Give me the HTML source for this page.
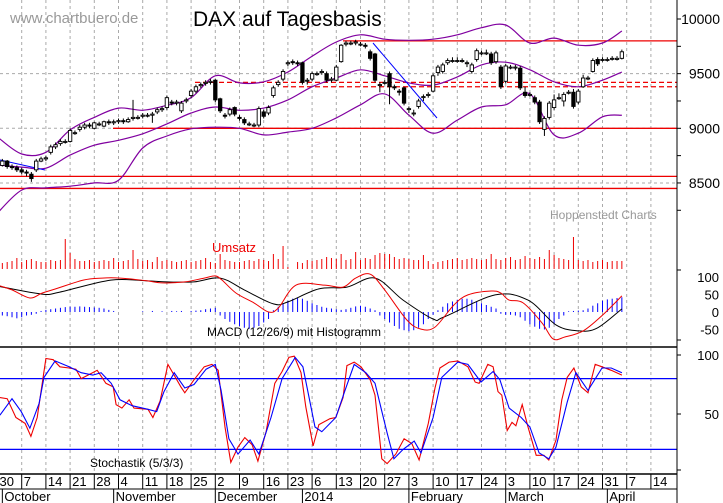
<!DOCTYPE html>
<html><head><meta charset="utf-8"><style>
html,body{margin:0;padding:0;background:#fff}
svg{display:block;font-family:"Liberation Sans",sans-serif}
</style></head><body>
<svg id="chart" width="723" height="503" viewBox="0 0 723 503" xmlns="http://www.w3.org/2000/svg">
<rect x="0" y="0" width="723" height="503" fill="#fff"/>
<g id="grid"></g>
<g id="main"></g>
<g id="vol"></g>
<g id="macd"></g>
<g id="stoch"></g>
<g id="axes"></g>
<text x="10" y="23" font-size="15" fill="#999">www.chartbuero.de</text>
<text x="193" y="26" font-size="21" fill="#000">DAX auf Tagesbasis</text>
<text x="550" y="219" font-size="12" fill="#999">Hoppenstedt Charts</text>
<text x="212" y="252" font-size="13" fill="#e00">Umsatz</text>
<text x="207" y="336" font-size="12" fill="#000">MACD (12/26/9) mit Histogramm</text>
<text x="90" y="467" font-size="12" fill="#000">Stochastik (5/3/3)</text>
</svg>
<script>
const opens=[8690,8660,8700,8650,8640,8620,8600,8580,8620,8700,8720,8780,8830,8860,8880,8880,8960,8990,9010,9030,9000,9040,9020,9060,9050,9060,9070,9060,9090,9100,9110,9120,9120,9150,9170,9190,9240,9230,9160,9250,9300,9340,9390,9410,9420,9440,9270,9120,9130,9190,9100,9080,9040,9030,9030,9150,9140,9300,9400,9450,9590,9610,9600,9600,9440,9450,9500,9510,9500,9440,9440,9610,9770,9780,9780,9770,9760,9700,9680,9400,9420,9500,9380,9340,9370,9180,9140,9200,9290,9300,9340,9510,9520,9600,9620,9620,9620,9600,9520,9630,9690,9690,9680,9610,9560,9430,9560,9560,9550,9330,9310,9280,9240,8990,9100,9190,9280,9250,9330,9330,9240,9380,9460,9520,9630,9630,9630,9640,9630,9640];
const closes=[8660,8700,8650,8640,8620,8600,8590,8540,8700,8720,8730,8830,8850,8880,8880,8980,8960,9010,9030,9020,9050,9040,9060,9050,9060,9070,9060,9080,9100,9100,9120,9120,9130,9170,9180,9280,9230,9240,9230,9260,9340,9380,9400,9420,9430,9260,9160,9110,9170,9130,9090,9050,9040,9030,9180,9110,9190,9370,9420,9520,9600,9600,9590,9420,9440,9500,9500,9520,9440,9450,9560,9760,9780,9780,9790,9770,9750,9640,9440,9400,9420,9380,9370,9330,9230,9180,9140,9250,9290,9310,9480,9560,9580,9620,9620,9620,9620,9600,9580,9710,9690,9690,9600,9690,9380,9570,9560,9560,9370,9300,9310,9240,9060,9090,9230,9260,9280,9310,9330,9200,9340,9460,9460,9620,9590,9630,9630,9640,9640,9700];
const highs=[8710,8720,8710,8670,8660,8640,8620,8600,8720,8740,8750,8850,8870,8900,8900,9000,8980,9030,9050,9050,9060,9060,9070,9080,9080,9090,9090,9100,9260,9120,9140,9140,9150,9190,9200,9300,9260,9260,9250,9280,9360,9400,9420,9440,9450,9450,9280,9140,9190,9200,9120,9100,9060,9050,9200,9170,9210,9390,9440,9540,9620,9630,9620,9610,9460,9520,9520,9540,9520,9470,9580,9770,9800,9800,9810,9790,9780,9720,9690,9420,9440,9520,9400,9360,9380,9200,9170,9270,9310,9330,9500,9580,9600,9640,9650,9650,9640,9620,9600,9730,9710,9720,9700,9710,9580,9590,9580,9580,9570,9380,9330,9300,9260,9110,9250,9310,9320,9330,9350,9360,9360,9490,9480,9640,9650,9650,9650,9660,9660,9720];
const lows=[8640,8650,8630,8620,8600,8580,8560,8510,8600,8690,8700,8760,8810,8840,8860,8870,8940,8970,8990,9000,8990,9020,9010,9030,9030,9040,9040,9050,9070,9080,9090,9100,9050,9130,9150,9170,9210,9210,9140,9230,9280,9320,9370,9390,9400,9240,9140,9090,9110,9110,9070,9030,9020,9010,9010,9090,9120,9280,9380,9430,9570,9580,9570,9400,9400,9430,9480,9490,9420,9420,9430,9600,9750,9760,9760,9750,9730,9620,9420,9330,9400,9220,9350,9300,9210,9140,9110,9180,9250,9280,9330,9480,9500,9580,9600,9600,9600,9560,9500,9610,9670,9670,9580,9590,9360,9410,9540,9530,9350,9280,9290,9220,9040,8930,9080,9170,9260,9200,9310,9180,9220,9370,9440,9510,9570,9610,9610,9620,9620,9630];
const bandDays=[0,5,10,15,20,25,30,35,40,45,50,55,60,65,70,75,80,85,90,95,100,105,110,115,120,125,129];
const bandUpper=[8920,8765,8780,8985,9100,9185,9165,9210,9280,9480,9415,9425,9515,9660,9790,9855,9815,9805,9815,9855,9920,9945,9780,9825,9760,9780,9890];
const bandMid=[8665,8645,8635,8755,8845,8890,8950,9040,9140,9195,9165,9185,9260,9380,9460,9535,9480,9415,9395,9470,9580,9605,9535,9425,9380,9440,9515];
const bandLower=[8225,8435,8455,8470,8500,8525,8820,8930,8995,9010,9000,8940,8965,9000,9095,9215,9315,9120,8955,9075,9195,9215,9315,8940,8955,9105,9120];
const volumes=[80,60,70,80,110,70,90,100,80,70,70,90,80,90,300,160,100,80,80,90,70,80,90,80,110,70,80,90,190,100,80,90,70,120,80,90,80,70,80,90,70,80,90,110,70,60,150,90,80,70,70,80,90,80,100,90,80,150,100,230,20,0,70,60,90,80,90,100,120,110,100,150,90,100,170,90,110,100,140,160,150,150,120,100,110,100,90,90,140,80,50,70,80,90,100,110,90,100,110,100,90,100,150,100,90,110,120,90,100,130,110,100,120,100,190,140,110,100,90,320,90,80,90,70,80,90,70,80,80,80];
const macdDays=[0,3,6.7,9.2,12,17.7,21.6,25.3,31,34,38.7,42.7,45,46.4,49.3,53,56,58,61.7,67.5,71.4,74,77,80,84.6,87.5,90.4,94.3,97.2,102,104,105.7,108.6,112.5,114.8,117.3,121,125,129];
const macdVals=[77,63,40,54,66,91,97,97,89,83,86,97,103,91,54,26,0,11,77,77,71,97,108,63,-23,-49,-43,20,49,60,54,34,26,-31,-77,-71,-54,-9,46];
const signalDays=[0,9.2,12.9,23.4,31,35,40.6,46,51,57,60,66.4,72.2,78,83.8,90,92.3,102.8,109.6,115.4,120.1,123.9,129];
const signalVals=[74,51,57,91,89,86,86,97,63,23,29,66,71,97,34,-20,-14,49,34,-37,-54,-46,9];
const histVals=[-8,-10,-12,-15,-18,-15,-10,-8,-5,3,6,8,10,12,14,15,15,16,15,14,13,12,10,6,3,0,0,0,0,0,2,0,3,0,2,0,3,2,3,0,3,4,5,8,10,12,-10,-20,-28,-35,-40,-45,-48,-45,-40,-30,-20,5,15,25,32,38,40,38,32,25,20,15,12,10,8,6,8,12,16,18,15,10,5,-10,-20,-30,-40,-48,-52,-55,-52,-45,-35,-20,-8,5,15,25,30,35,38,38,35,30,25,20,15,10,-5,-8,-8,-10,-15,-25,-35,-42,-48,-50,-45,-35,-20,-10,2,3,4,5,10,18,25,32,36,38,40,42];
const kDays=[0.5,2,3.8,5.7,6.9,8.2,10,11.5,12.9,14.8,16.2,17.3,18.7,20.6,22.4,23.9,24.5,25.7,27.2,28.2,31.1,32.1,33.6,35.2,37.9,38.7,40.6,42.7,44.3,45.6,47,48.2,49.7,51.1,52.6,53.8,55.5,57.3,58.8,60.2,61.3,62.7,63.7,65.2,66.4,68.7,69.9,71.4,72.2,73.7,75.1,77,78,79.4,80.5,82.3,84,85.6,87.1,89,90.4,91.4,93.3,95.1,97.2,98.7,99.5,101.3,102.4,103.4,104.2,105.3,106.3,107.1,108.4,109.6,111.3,112.9,113.9,115.4,116.6,117.7,119.1,120.6,122,123.5,124.9,126.8,129];
const kVals=[64,63,47,42,31,47,97,96,90,89,88,80,83,87,76,73,58,55,62,55,54,47,61,92,73,68,79,90,92,87,39,9,22,30,24,10,35,76,86,98,99,85,56,23,41,46,47,64,91,94,90,79,66,12,8,16,29,25,11,42,72,89,94,95,90,77,76,92,90,69,66,36,43,40,58,39,15,15,11,28,62,81,89,73,68,92,90,87,83];
const dDays=[0.5,3,4.9,6.7,8.6,9.6,11.9,14.8,17.3,19.7,21.4,23.5,25.3,27.8,31.1,32.9,34.4,36.5,38.7,40.6,43.1,45,46.2,47.8,49.7,52.2,54,56.5,58.8,61.5,63.1,65.6,67,69.9,71.8,73.7,76.1,78,80.5,81.9,83.8,86.1,87.5,90,91.8,95.1,97.2,99.9,102.4,103.8,105.7,108.2,110,111.9,113.9,115.4,117.7,119.5,122,124.9,126.8,129];
const dVals=[49,63,52,38,59,81,95,90,85,83,85,76,62,57,54,52,69,85,72,75,88,92,70,29,16,28,16,47,80,98,90,39,35,47,70,92,85,76,34,12,20,27,17,47,81,94,92,77,86,79,55,47,39,17,12,22,60,85,70,89,89,85];
const weekLabels=["30","7","14","21","28","4","11","18","25","2","9","16","23","6","13","20","27","3","10","17","24","3","10","17","24","31","7","14"];
const monthLabels=["October","November","December","2014","February","March","April"];
const monthDays=[1,24,45,63,85,105,126];
const priceTicks=[10000,9500,9000,8500];
const macdTicks=[100,50,0,-50];
const stochTicks=[100,50];

const NS="http://www.w3.org/2000/svg";
function dx(d){return -2.5+d*4.84;}
function py(p){return 19+(10000-p)*0.1093;}
function my(v){return 312-v*0.35;}
function sy(v){return 355+(100-v)*1.18;}
function vy(v){return 269-v*0.1;}
function mk(parent,tag,attrs){const e=document.createElementNS(NS,tag);for(const k in attrs)e.setAttribute(k,attrs[k]);parent.appendChild(e);return e;}
const G=id=>document.getElementById(id);
const AX=677;

// grid
const grid=G('grid');
for(let k=1;k<weekLabels.length;k++){
  const x=dx(5*k);
  const l=mk(grid,'line',{x1:x,y1:0,x2:x,y2:474,stroke:'#aaa','stroke-dasharray':'3,3','stroke-width':1});
  
  
}
priceTicks.slice(1).forEach(p=>{
  const l=mk(grid,'line',{x1:0,y1:py(p),x2:AX,y2:py(p),stroke:'#aaa','stroke-dasharray':'3,3'});
  
  
});

// main price panel
const main=G('main');
function hline(y,x1,color,dash,name){
  const l=mk(main,'line',{x1:x1,y1:y,x2:AX,y2:y,stroke:color,'stroke-width':1.3});
  if(dash)l.setAttribute('stroke-dasharray',dash);
  
  
}
hline(py(9800),343,'#e00',null,'resistance-line-9800');
hline(py(9000),113,'#e00',null,'support-line-9000');
hline(py(8560),0,'#e00',null,'support-line-8560');
hline(py(8450),0,'#e00',null,'support-line-8450');
hline(py(9420),195,'#e00','5,3','resistance-dashed-upper');
hline(py(9380),283,'#e00','5,3','resistance-dashed-lower');

function poly(parent,days,vals,yf,color,w,name){
  const pts=days.map((d,i)=>dx(d).toFixed(1)+','+yf(vals[i]).toFixed(1)).join(' ');
  const p=mk(parent,'polyline',{points:pts,fill:'none',stroke:color,'stroke-width':w});
  
  
}
function smooth(parent,days,vals,yf,color,w,name){
  const P=days.map((d,i)=>[dx(d),yf(vals[i])]);
  let s='M'+P[0][0].toFixed(1)+','+P[0][1].toFixed(1);
  for(let i=0;i<P.length-1;i++){
    const p0=P[Math.max(0,i-1)],p1=P[i],p2=P[i+1],p3=P[Math.min(P.length-1,i+2)];
    const c1=[p1[0]+(p2[0]-p0[0])/6,p1[1]+(p2[1]-p0[1])/6];
    const c2=[p2[0]-(p3[0]-p1[0])/6,p2[1]-(p3[1]-p1[1])/6];
    s+=' C'+c1[0].toFixed(1)+','+c1[1].toFixed(1)+' '+c2[0].toFixed(1)+','+c2[1].toFixed(1)+' '+p2[0].toFixed(1)+','+p2[1].toFixed(1);
  }
  const p=mk(parent,'path',{d:s,fill:'none',stroke:color,'stroke-width':w});
  
  
}
smooth(main,bandDays,bandUpper,py,'#8000a0',1.2,'bollinger-upper');
smooth(main,bandDays,bandMid,py,'#8000a0',1.2,'bollinger-middle');
smooth(main,bandDays,bandLower,py,'#8000a0',1.2,'bollinger-lower');
const t1=mk(main,'line',{x1:0,y1:160,x2:45,y2:170,stroke:'#00f','stroke-width':1});


const t2=mk(main,'line',{x1:373,y1:43,x2:437,y2:118,stroke:'#00f','stroke-width':1});



closes.forEach((c,i)=>{
  const o=opens[i],x=dx(i);
  const w=mk(main,'line',{x1:x,y1:py(highs[i]),x2:x,y2:py(lows[i]),stroke:'#000','stroke-width':1});
  
  
  const top=py(Math.max(o,c)),bot=py(Math.min(o,c));
  const r=mk(main,'rect',{x:x-1.7,y:top,width:3.4,height:Math.max(1,bot-top),fill:c>=o?'#fff':'#000',stroke:'#000','stroke-width':0.9});
  
  
});

// volume
const vol=G('vol');
volumes.forEach((v,i)=>{
  if(v<=0)return;
  const b=mk(vol,'line',{x1:dx(i),y1:269,x2:dx(i),y2:vy(v),stroke:'#e00','stroke-width':1});
  
  
});

// macd
const macd=G('macd');
histVals.forEach((v,i)=>{
  if(v===0)return;
  const b=mk(macd,'line',{x1:dx(i),y1:my(0),x2:dx(i),y2:my(v),stroke:'#00f','stroke-width':1});
  
  
});
smooth(macd,signalDays,signalVals,my,'#000',1,'macd-signal-line');
smooth(macd,macdDays,macdVals,my,'#e00',1,'macd-line');

// stochastic
const st=G('stoch');
[80,20].forEach(v=>{
  const l=mk(st,'line',{x1:0,y1:sy(v),x2:AX,y2:sy(v),stroke:'#00f','stroke-width':1.2});
  
  
});
poly(st,kDays,kVals,sy,'#e00',1.1,'stochastic-k');
poly(st,dDays,dVals,sy,'#00f',1.1,'stochastic-d');

// axes
const ax=G('axes');
function bl(x1,y1,x2,y2,name,w){
  const l=mk(ax,'line',{x1:x1,y1:y1,x2:x2,y2:y2,stroke:'#000','stroke-width':w||1});
  
  
}
bl(AX,0,AX,503,'right-axis-line');
bl(0,347,AX,347,'panel-divider',1.5);
bl(0,474,AX,474,'x-axis-line',1.5);
bl(0,489,AX,489,'date-row-divider');
function tl(x,y,txt,name,anchor,size){
  const t=mk(ax,'text',{x:x,y:y,'font-size':size||13,fill:'#000','text-anchor':anchor||'start'});
  t.textContent=txt;
  
  
}
priceTicks.forEach(p=>{
  bl(AX,py(p),AX+4,py(p),'price-tick');
  tl(720,py(p)+5,String(p),'price-tick-label','end',14);
});
[9750,9250,8750,8250].forEach(p=>bl(AX,py(p),AX+4,py(p),'price-minor-tick'));
macdTicks.forEach(v=>{
  tl(719,my(v)+5,String(v),'macd-tick-label','end',13);
});
[270,340].forEach(y=>bl(AX,y,AX+4,y,'macd-axis-tick'));
stochTicks.forEach(v=>{
  bl(AX,sy(v),AX+4,sy(v),'stoch-tick');
  tl(719,sy(v)+5,String(v),'stoch-tick-label','end',13);
});
bl(AX,sy(0)-3,AX+4,sy(0)-3,'stoch-minor-tick');
weekLabels.forEach((lab,k)=>{
  const x=dx(5*k);
  bl(x,474,x,489,'date-tick');
  tl(x+2,486,lab,'date-label','start',13);
});
monthLabels.forEach((m,i)=>{
  const x=dx(monthDays[i]);
  bl(x,489,x,503,'month-tick');
  tl(x+2,501,m,'month-label','start',13);
});
</script>
</body></html>
